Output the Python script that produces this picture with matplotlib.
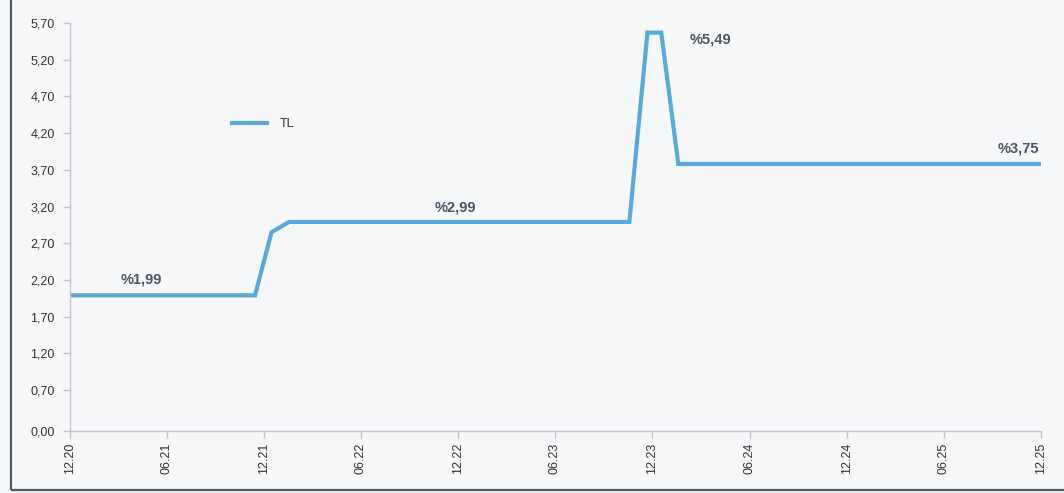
import matplotlib
matplotlib.use("Agg")
from matplotlib import pyplot as plt
from matplotlib.patches import Rectangle
import matplotlib.dates as mdates
import numpy as np
import pandas as pd

plt.rcParams["font.family"] = ["Liberation Sans", "DejaVu Sans"]

# data
dates = pd.to_datetime(
    [
        "2020-12-01",
        "2021-11-14",
        "2021-12-15",
        "2022-01-17",
        "2023-10-19",
        "2023-11-22",
        "2023-12-18",
        "2024-01-19",
        "2025-12-01",
    ]
)
tl_rate = [1.99, 1.99, 2.85, 2.99, 2.99, 5.57, 5.57, 3.78, 3.78]
series_name = "TL"

value_labels = ["%1,99", "%2,99", "%5,49", "%3,75"]
label_dates = pd.to_datetime(["2021-04-14", "2022-11-25", "2024-03-20", "2025-10-20"])
label_values = [2.21, 3.18, 5.47, 3.99]

ytick_values = [0.14, 0.70, 1.20, 1.70, 2.20, 2.70, 3.20, 3.70, 4.20, 4.70, 5.20, 5.70]
ytick_labels = ["0,00", "0,70", "1,20", "1,70", "2,20", "2,70", "3,20",
                "3,70", "4,20", "4,70", "5,20", "5,70"]
xtick_dates = pd.date_range("2020-12-01", "2025-12-01", freq="6MS")

bg = "#f6f7f9"
fig = plt.figure(figsize=(10.64, 4.93), dpi=100, facecolor=bg)
fig.patches.append(
    Rectangle((0.0105, 0.006), 1.0, 1.2, transform=fig.transFigure,
              fill=False, edgecolor="#4d5d6e", linewidth=1.6, zorder=0)
)
ax = fig.add_axes([0.0658, 0.1258, 0.9125, 0.8273])
ax.set_facecolor(bg)

ax.plot(dates, tl_rate, color="#5aaad9", linewidth=3.0,
        solid_joinstyle="miter", label=series_name)

for txt, d, v in zip(value_labels, label_dates, label_values):
    ax.text(d, v, txt, ha="center", va="center", fontsize=10.5,
            fontweight="bold", color="#4b5563")

ax.set_ylim(ytick_values[0], ytick_values[-1])
ax.set_yticks(ytick_values)
ax.set_yticklabels(ytick_labels)
ax.set_xlim(xtick_dates[0], xtick_dates[-1])
ax.set_xticks(xtick_dates)
ax.xaxis.set_major_formatter(mdates.DateFormatter("%m.%y"))
plt.setp(ax.get_xticklabels(), rotation=90)

for s in ["top", "right"]:
    ax.spines[s].set_visible(False)
for s in ["left", "bottom"]:
    ax.spines[s].set_color("#c3c7cc")
    ax.spines[s].set_linewidth(1.0)
ax.tick_params(axis="both", colors="#c3c7cc", length=5, width=1.0,
               labelcolor="#333333", labelsize=9)
ax.tick_params(axis="y", pad=6)

ax.legend(loc="center left", bbox_to_anchor=(0.155, 0.752), frameon=False,
          fontsize=9, handlelength=2.8, handletextpad=1.0,
          labelcolor="#333333")

fig.savefig("out.png", dpi=100, facecolor=bg)
